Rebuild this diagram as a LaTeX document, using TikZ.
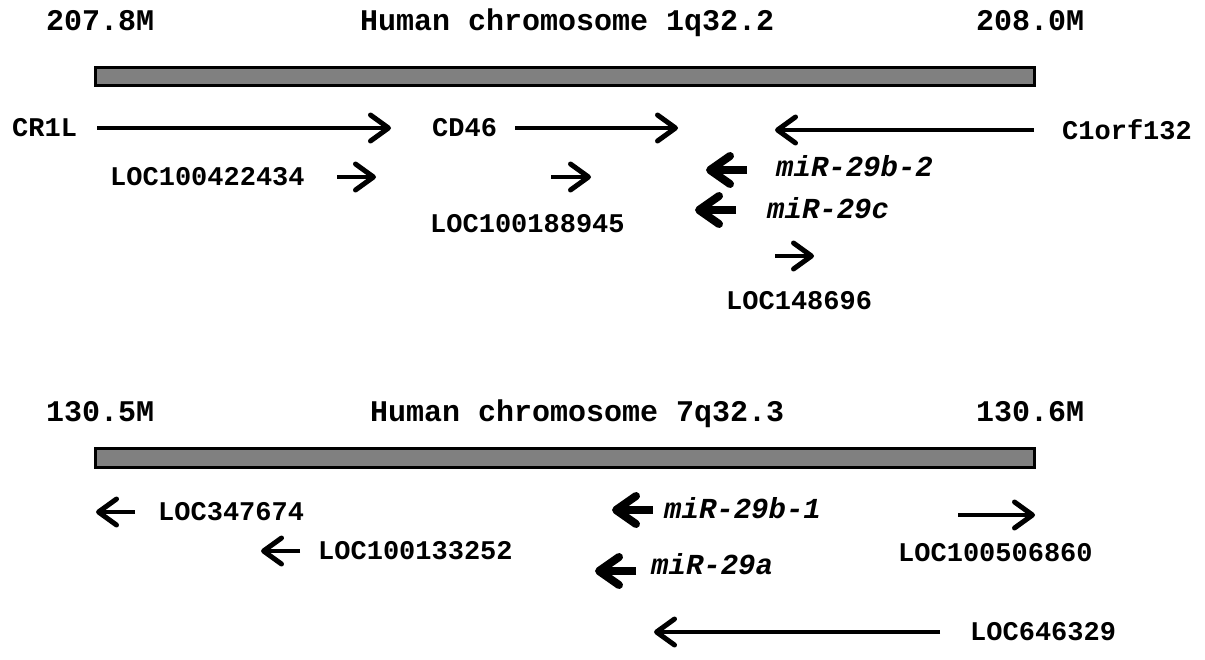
\documentclass[tikz,border=0pt]{standalone}
\usepackage{fontspec}
\setmainfont{Liberation Mono}
\usetikzlibrary{arrows.meta}
\tikzset{
  txtbase/.style={inner sep=0pt, anchor=west, text height=0.58em, text depth=0pt, yshift=-6pt},
  ttl/.style={txtbase, font=\fontsize{30}{34}\selectfont\bfseries},
  lbl/.style={txtbase, font=\fontsize{27}{31}\selectfont\bfseries},
  mir/.style={txtbase, font=\fontsize{29}{33}\selectfont\bfseries\itshape},
  chrbar/.style={draw, line width=3pt, fill=gray},
  gene/.style={line width=4pt, -{Straight Barb[length=18pt, width=26pt, round, line width=5pt]}},
  mirna/.style={line width=8pt, -{Straight Barb[length=20pt, width=28pt, round]}},
}
\begin{document}
\begin{tikzpicture}[x=1pt, y=-1pt]
	\useasboundingbox (0,0) rectangle (1205,659);
		\node[ttl] (s1) at (46,22) {207.8M};
		\node[ttl] (t1) at (360,22) {Human chromosome 1q32.2};
		\node[ttl] (e1) at (976,22) {208.0M};
		\draw[chrbar] (95,67) rectangle (1034,85);
			\node[lbl] (cr1l) at (12,128) {CR1L};
			\draw[gene] (97,128) -- (391,128);
			\node[lbl] (cd46) at (432,128) {CD46};
			\draw[gene] (515,128) -- (678,128);
			\draw[gene] (1034,130) -- (775,130);
			\node[lbl] (c1orf) at (1062,131) {C1orf132};
			\node[lbl] (loc1) at (110,177) {LOC100422434};
			\draw[gene] (337,177) -- (376,177);
			\draw[gene] (551,177) -- (591,177);
			\node[lbl] (loc2) at (430,224) {LOC100188945};
			\draw[mirna] (747,170) -- (706,170);
			\node[mir] (m1) at (776,168) {miR-29b-2};
			\draw[mirna] (736,210) -- (695,210);
			\node[mir] (m2) at (767,210) {miR-29c};
			\draw[gene] (775,256) -- (814,256);
			\node[lbl] (loc3) at (726,301) {LOC148696};
		\node[ttl] (s2) at (46,413) {130.5M};
		\node[ttl] (t2) at (370,413) {Human chromosome 7q32.3};
		\node[ttl] (e2) at (976,413) {130.6M};
		\draw[chrbar] (95,448) rectangle (1034,467);
			\draw[gene] (135,512) -- (96,512);
			\node[lbl] (loc4) at (158,512) {LOC347674};
			\draw[gene] (300,551) -- (261,551);
			\node[lbl] (loc5) at (318,551) {LOC100133252};
			\draw[mirna] (653,510) -- (612,510);
			\node[mir] (m3) at (664,510) {miR-29b-1};
			\draw[mirna] (636,571) -- (595,571);
			\node[mir] (m4) at (651,566) {miR-29a};
			\draw[gene] (958,515) -- (1035,515);
			\node[lbl] (loc6) at (898,553) {LOC100506860};
			\draw[gene] (940,632) -- (654,632);
			\node[lbl] (loc7) at (970,632) {LOC646329};
\end{tikzpicture}
\end{document}
